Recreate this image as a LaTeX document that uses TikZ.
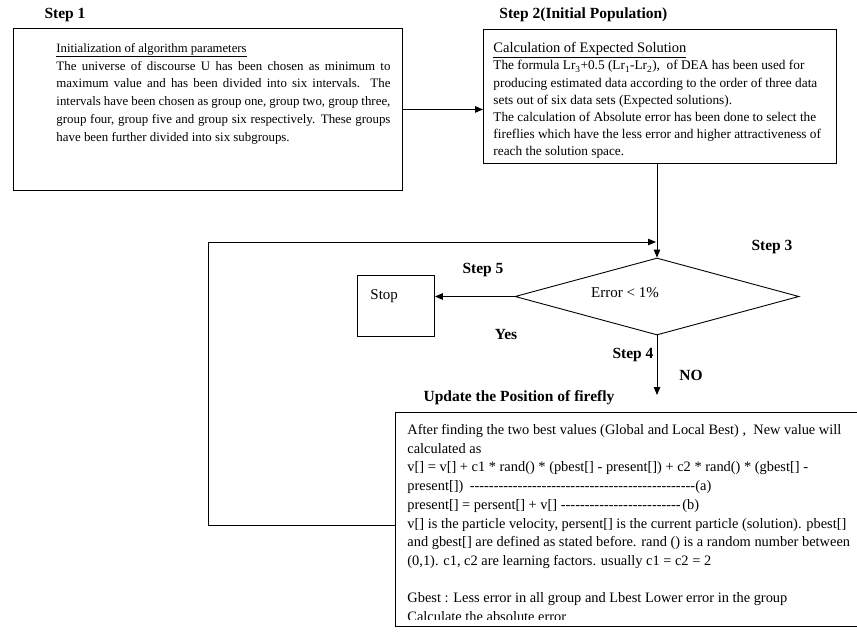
\documentclass[tikz,border=0pt]{standalone}
\usepackage{fontspec}
\setmainfont{Liberation Serif}
\usetikzlibrary{shapes.geometric,arrows.meta}
\newcommand\dashline[2]{\makebox[#1][l]{#2\leaders\hbox{-}\hfill}}
\begin{document}
\begin{tikzpicture}[>={Stealth[length=8pt,width=6.5pt,inset=0pt]},x=1pt,y=-1pt,line width=0.9pt,
	box/.style={draw,rectangle,inner sep=0pt},
	steplabel/.style={font=\fontsize{15.5}{18}\selectfont\bfseries,inner sep=0pt},
	decision/.style={diamond,draw,minimum width=284pt,minimum height=77pt,inner sep=0pt}]
		\useasboundingbox (0,0) rectangle (857,634);
		\clip (0,0) rectangle (857,634);
		\node[steplabel] (step1) at (65,15) {Step 1};
		\node[steplabel,anchor=west] (step2) at (499,15) {Step 2(Initial Population)};
		\node[box,anchor=north west,minimum width=389pt,minimum height=162pt] (init) at (13,28) {};
		\node[anchor=north west,inner sep=0pt,text width=334pt,align=justify,font=\fontsize{12.9}{17.8}\selectfont] (inittext) at (56,43)
			{{\fontsize{12.7}{17.8}\selectfont\underline{Initialization of algorithm parameters}}\\
			The universe of discourse U has been chosen as minimum to\linebreak
			maximum value and has been divided into six intervals. The\linebreak
			intervals have been chosen as group one, group two, group three,\linebreak
			group four, group five and group six respectively. These groups\linebreak
			have been further divided into six subgroups.};
		\node[box,anchor=north west,minimum width=353pt,minimum height=134pt] (calc) at (483,29) {};
		\node[anchor=north west,inner sep=0pt,align=left,font=\fontsize{13.3}{17.2}\selectfont] (calctext) at (493,42)
			{{\fontsize{14.5}{17.2}\selectfont\underline{Calculation of Expected Solution}}\\
			The formula Lr\textsubscript{3}+0.5 (Lr\textsubscript{1}-Lr\textsubscript{2}),\ \ of DEA has been used for\\
			producing estimated data according to the order of three data\\
			sets out of six data sets (Expected solutions).\\
			The calculation of Absolute error has been done to select the\\
			fireflies which have the less error and higher attractiveness of\\
			reach the solution space.};
		\node[decision,label={[xshift=-32pt,yshift=3.5pt,font=\fontsize{15}{18}\selectfont]center:Error < 1\%}] (decision) at (657,296.5) {};
		\node[steplabel] (step3) at (772,247) {Step 3};
		\node[steplabel] (step5) at (483,270) {Step 5};
		\node[box,anchor=north west,text width=51pt,inner xsep=13pt,inner ysep=0pt,text height=24pt,text depth=37pt,align=left,font=\fontsize{15}{18}\selectfont] (stop) at (357,275) {Stop};
		\node[steplabel] (yes) at (506,334) {Yes};
		\node[steplabel] (step4) at (633,355) {Step 4};
		\node[steplabel] (no) at (691,375) {NO};
		\node[steplabel] (updtitle) at (519,398) {Update the Position of firefly};
		\node[box,anchor=north west,minimum width=480pt,minimum height=214pt] (update) at (395,412) {};
		\begin{scope}
		\clip (update.north west) rectangle ([yshift=7pt]update.south east);
		\node[anchor=north west,inner sep=0pt,align=left,font=\fontsize{14.4}{18.7}\selectfont] (updtext) at (407,424)
			{After finding the two best values (Global and Local Best) ,\ \ New value will\\
			calculated as\\
			v[] = v[] + c1 * rand() * (pbest[] - present[]) + c2 * rand() * (gbest[] -\\
			\dashline{288pt}{present[]) }(a)\\
			\dashline{275pt}{present[] = persent[] + v[] }(b)\\
			v[] is the particle velocity, persent[] is the current particle (solution). pbest[]\\
			and gbest[] are defined as stated before. rand () is a random number between\\
			(0,1). c1, c2 are learning factors. usually c1 = c2 = 2\\[18.7pt]
			Gbest : Less error in all group and Lbest Lower error in the group\\
			Calculate the absolute error};
		\end{scope}
		\coordinate (looptip) at (656,242);
		\coordinate (notip) at (657,395);
		\draw[->] (init.east) -- (init.east -| calc.west);
		\draw[->] (calc.south -| decision.north) -- (decision.north);
		\draw[->] (decision.west) -- (decision.west -| stop.east);
		\draw[->] (decision.south) -- (notip);
		\draw[->] ([yshift=-6pt]update.west) -- ++(-187,0) |- (looptip);
		\end{tikzpicture}
\end{document}
